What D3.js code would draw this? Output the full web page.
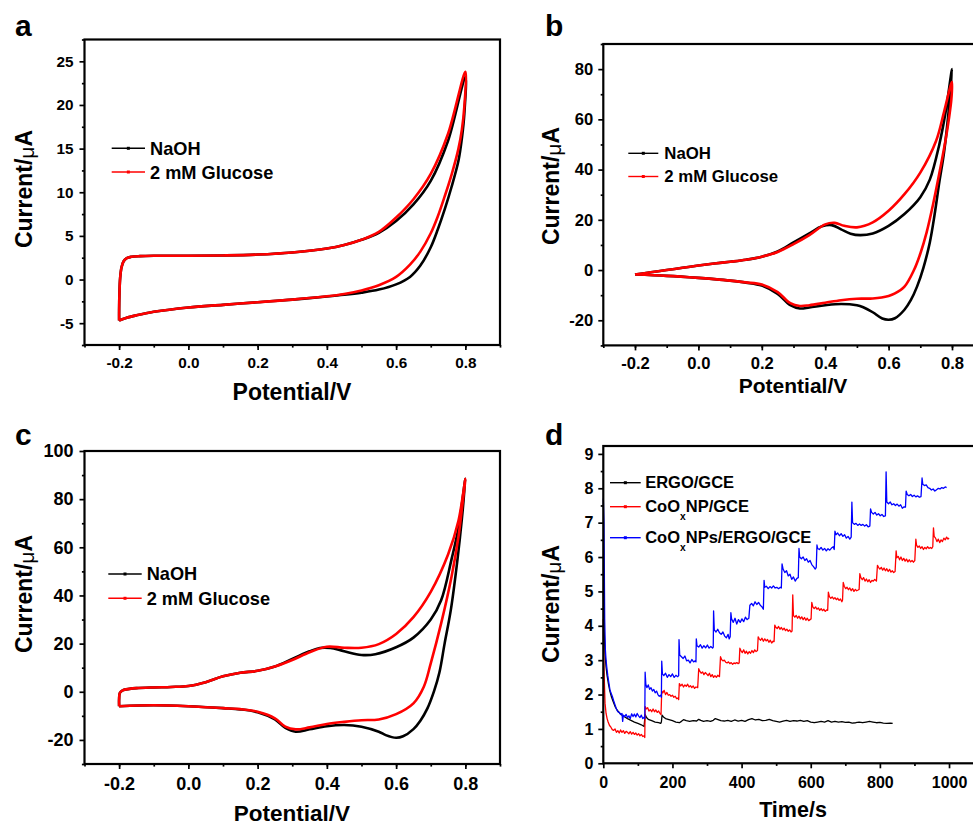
<!DOCTYPE html>
<html>
<head>
<meta charset="utf-8">
<script src="https://cdn.jsdelivr.net/npm/d3@7"></script>
<style>
  body { margin: 0; background: #fff; }
  svg { display: block; }
  text { font-family: "Liberation Sans", Arial, Helvetica, sans-serif; font-weight: bold; fill: #000; }
</style>
</head>
<body>
<svg id="fig" width="973" height="826"></svg>
<script>
// ---------- Cyclic voltammograms (potential V, current µA), forward then reverse scan ----------
// (a) bare electrode
const cvA_NaOH = [
  [-0.2,-4.7],[-0.2,-3.5],[-0.199,-1.5],[-0.197,0.2],[-0.193,1.4],[-0.187,2.1],[-0.178,2.45],[-0.165,2.6],
  [-0.14,2.68],[-0.1,2.72],[0,2.72],[0.1,2.76],[0.2,2.86],[0.3,3.1],[0.4,3.55],[0.45,3.95],[0.5,4.55],
  [0.55,5.35],[0.6,6.7],[0.65,8.6],[0.7,11.3],[0.75,15.9],[0.8,23.2],
  [0.797,19],[0.79,16.2],[0.78,13.6],[0.76,10.6],[0.74,8.0],[0.72,5.7],[0.7,3.7],[0.67,1.6],[0.64,0.3],
  [0.6,-0.55],[0.55,-1.15],[0.5,-1.5],[0.45,-1.75],[0.4,-1.95],[0.3,-2.3],[0.2,-2.6],[0.1,-2.9],
  [0,-3.2],[-0.1,-3.7],[-0.15,-4.1],[-0.18,-4.4],[-0.2,-4.7]
];
const cvA_Glucose = [
  [-0.2,-4.7],[-0.2,-3.5],[-0.199,-1.5],[-0.197,0.2],[-0.193,1.4],[-0.187,2.1],[-0.178,2.45],[-0.165,2.6],
  [-0.14,2.68],[-0.1,2.72],[0,2.72],[0.1,2.76],[0.2,2.86],[0.3,3.1],[0.4,3.55],[0.45,3.95],[0.5,4.55],
  [0.55,5.45],[0.6,7.1],[0.65,9.2],[0.7,12.1],[0.75,16.7],[0.8,23.8],
  [0.797,19.8],[0.79,17.2],[0.78,15],[0.76,12],[0.74,9.5],[0.72,7.2],[0.7,5.3],[0.67,3.2],[0.64,1.7],
  [0.6,0.3],[0.55,-0.65],[0.5,-1.25],[0.45,-1.65],[0.4,-1.92],[0.3,-2.3],[0.2,-2.6],[0.1,-2.9],
  [0,-3.2],[-0.1,-3.7],[-0.15,-4.1],[-0.18,-4.4],[-0.2,-4.7]
];
// (b)
const cvB_NaOH = [
  [-0.2,-1.8],[-0.15,-0.9],[-0.1,0.0],[-0.05,0.9],[0,1.8],[0.05,2.6],[0.1,3.3],[0.15,4.1],[0.2,5.3],
  [0.25,7.4],[0.3,11.0],[0.35,14.6],[0.39,17.4],[0.42,17.9],[0.45,16.2],[0.48,14.5],[0.51,13.9],
  [0.55,14.6],[0.6,17.6],[0.65,22.3],[0.7,29],[0.73,36],[0.76,50],[0.78,63],[0.8,80],
  [0.79,64],[0.775,47],[0.76,35],[0.745,22],[0.73,11],[0.71,1],[0.69,-6.5],[0.67,-12],[0.65,-15.8],
  [0.62,-19.2],[0.6,-19.8],[0.58,-19.3],[0.55,-16.8],[0.52,-14.8],[0.5,-14],[0.45,-13.5],[0.4,-14],
  [0.35,-14.9],[0.32,-15.3],[0.29,-14],[0.25,-9.5],[0.2,-6.2],[0.15,-5],[0.1,-4.2],[0.05,-3.6],
  [0,-3.1],[-0.1,-2.3],[-0.2,-1.8]
];
const cvB_Glucose = [
  [-0.2,-1.8],[-0.15,-0.9],[-0.1,0.0],[-0.05,0.9],[0,1.8],[0.05,2.6],[0.1,3.3],[0.15,4.1],[0.2,5.3],
  [0.25,7.2],[0.3,10.3],[0.35,13.9],[0.4,18.2],[0.43,18.8],[0.46,17.6],[0.5,17.0],[0.55,19.0],
  [0.6,23.6],[0.65,30.2],[0.7,38.8],[0.75,51.5],[0.775,63],[0.8,75],
  [0.798,68],[0.79,60],[0.78,52],[0.76,38.5],[0.74,26],[0.72,15],[0.7,6.5],[0.68,0],[0.65,-6.6],
  [0.62,-9.3],[0.6,-10.3],[0.55,-11.3],[0.5,-11.4],[0.45,-12],[0.4,-13],[0.35,-14],[0.32,-14.3],
  [0.29,-13.2],[0.25,-8.8],[0.2,-5.8],[0.15,-4.9],[0.1,-4.2],[0.05,-3.6],[0,-3.1],[-0.1,-2.3],[-0.2,-1.8]
];
// (c)
const cvC_NaOH = [
  [-0.2,-6],[-0.2,-3],[-0.198,-0.5],[-0.19,0.6],[-0.17,1.2],[-0.15,1.5],[-0.1,1.8],[-0.05,2.0],[0,2.4],
  [0.05,4.0],[0.1,6.4],[0.15,7.9],[0.2,8.7],[0.25,10.5],[0.3,13.6],[0.35,16.8],[0.38,18.2],[0.41,18.2],
  [0.45,16.8],[0.5,15.3],[0.54,15.6],[0.6,18.5],[0.65,22.5],[0.7,30],[0.73,38],[0.76,55],[0.78,68],[0.8,88.5],
  [0.79,72],[0.777,54.7],[0.758,34],[0.74,20],[0.725,8],[0.71,0.5],[0.69,-7],[0.67,-12],[0.65,-15.5],
  [0.62,-18.5],[0.6,-19.1],[0.57,-18],[0.55,-16.6],[0.5,-14.5],[0.45,-13.8],[0.4,-14.3],[0.35,-15.6],
  [0.31,-16.6],[0.28,-15],[0.25,-11.5],[0.2,-8.5],[0.15,-7.3],[0.1,-6.8],[0,-6],[-0.1,-5.6],[-0.2,-6]
];
const cvC_Glucose = [
  [-0.2,-6],[-0.2,-3],[-0.198,-0.5],[-0.19,0.6],[-0.17,1.2],[-0.15,1.5],[-0.1,1.8],[-0.05,2.0],[0,2.4],
  [0.05,4.0],[0.1,6.4],[0.15,7.9],[0.2,8.7],[0.25,10.5],[0.3,13.2],[0.35,16.4],[0.4,18.7],[0.45,18.3],
  [0.5,18.3],[0.55,19.8],[0.6,24],[0.65,31],[0.7,41.5],[0.75,57],[0.78,71],[0.8,88.5],
  [0.79,76],[0.78,64.4],[0.76,47.8],[0.73,28.4],[0.7,11.8],[0.68,2.1],[0.65,-4.8],[0.6,-9.3],
  [0.55,-11.5],[0.5,-11.8],[0.45,-12.5],[0.4,-13.4],[0.35,-14.8],[0.31,-15.6],[0.28,-14.5],
  [0.25,-11],[0.2,-8.3],[0.15,-7.2],[0.1,-6.8],[0,-6],[-0.1,-5.6],[-0.2,-6]
];

// ---------- Amperometric responses (time s, current µA) ----------
const ergoGce = [
  [0,5.0],[2,4.0],[5,3.2],[8,2.8],[11,2.55],[15,2.3],[19,2.1],[24,1.92],[29,1.78],[35,1.63],[42,1.52],
  [50,1.43],[60,1.36],[70,1.3],[80,1.25],[90,1.2],[100,1.16],[110,1.12],[118,1.07],
  [121,1.42],[125,1.33],[130,1.28],[140,1.24],[150,1.2],[160,1.18],[166,1.16],[168,1.2],
  [170,1.4],[174,1.35],[180,1.3],[190,1.27],[200,1.24],[210,1.2],[220,1.18],[226,1.22],[232,1.27],
  [240,1.24],[250,1.22],[260,1.24],[270,1.23],[276,1.28],[282,1.25],[290,1.22],[300,1.24],[310,1.22],
  [318,1.25],[324,1.3],[330,1.28],[340,1.24],[350,1.23],[360,1.25],[370,1.22],[380,1.26],[390,1.23],
  [400,1.25],[410,1.22],[420,1.27],[430,1.3],[440,1.26],[450,1.28],[460,1.24],[470,1.25],[480,1.28],
  [490,1.24],[500,1.22],[510,1.2],[520,1.23],[530,1.25],[540,1.22],[550,1.24],[560,1.23],[570,1.25],
  [580,1.22],[590,1.24],[600,1.2],[610,1.18],[620,1.2],[630,1.22],[640,1.2],[650,1.24],[660,1.2],
  [670,1.22],[680,1.2],[690,1.21],[700,1.19],[710,1.2],[720,1.17],[730,1.18],[740,1.2],[750,1.18],
  [760,1.2],[770,1.22],[780,1.2],[790,1.18],[800,1.19],[810,1.17],[820,1.16],[830,1.17],[837,1.16]
];
const coNpGce = [
  [0,4.2],[1,3.2],[3,2.4],[5,1.75],[8,1.45],[11,1.3],[14,1.2],[18,1.1],[22,1.05],[26,0.98],[30,0.96],
  [34,1.0],[38,0.9],[42,0.95],[46,0.88],[50,0.97],[54,0.9],[58,0.95],[62,0.87],[66,0.93],[70,0.9],
  [74,0.86],[78,0.92],[82,0.85],[86,0.9],[90,0.84],[94,0.88],[98,0.82],[102,0.86],[106,0.8],[110,0.84],
  [114,0.78],[118,0.8],[120,0.75],
  [121,1.65],[124,1.58],[128,1.62],[132,1.52],[136,1.56],[140,1.5],[144,1.58],[148,1.5],[152,1.55],
  [156,1.48],[160,1.52],[164,1.45],[167,1.42],
  [169,2.1],[172,2.05],[176,2.12],[180,2.0],[184,2.06],[188,1.98],[192,2.0],[196,1.95],[200,1.98],
  [204,1.92],[208,1.95],[212,1.88],[216,1.9],[218,1.85],
  [220,2.32],[224,2.25],[228,2.3],[232,2.22],[236,2.28],[240,2.24],[244,2.3],[248,2.22],[252,2.26],
  [256,2.2],[260,2.25],[264,2.18],[268,2.22],[273,2.2],
  [276,2.75],[279,2.68],[283,2.62],[287,2.66],[291,2.58],[295,2.64],[299,2.6],[303,2.55],[307,2.62],
  [311,2.52],[315,2.58],[319,2.5],[323,2.55],[327,2.5],[331,2.56],[336,2.52],
  [339,3.1],[342,3.02],[346,2.98],[350,3.0],[354,2.94],[358,2.92],[362,2.95],[366,2.9],[370,2.93],
  [374,2.88],[378,2.92],[382,2.9],[386,2.93],[390,2.9],[393,2.92],
  [395,3.35],[398,3.28],[402,3.22],[406,3.3],[410,3.2],[414,3.26],[418,3.18],[422,3.25],[426,3.2],
  [430,3.28],[434,3.22],[438,3.3],[442,3.25],[446,3.28],
  [448,3.68],[451,3.62],[455,3.58],[459,3.64],[463,3.55],[467,3.62],[471,3.56],[475,3.6],[479,3.52],
  [483,3.58],[487,3.5],[491,3.55],[494,3.54],
  [496,4.02],[499,3.96],[503,3.92],[507,3.98],[511,3.9],[515,3.95],[519,3.88],[523,3.93],[527,3.86],
  [531,3.9],[535,3.84],[539,3.88],[543,3.82],[546,3.85],
  [548,4.9],[550,4.3],[554,4.25],[558,4.3],[562,4.22],[566,4.28],[570,4.2],[574,4.26],[578,4.18],
  [582,4.24],[586,4.16],[590,4.22],[594,4.15],[598,4.18],[601,4.2],
  [603,4.68],[606,4.55],[610,4.5],[614,4.55],[618,4.48],[622,4.52],[626,4.45],[630,4.5],[634,4.44],
  [638,4.48],[642,4.42],[646,4.46],[649,4.45],
  [651,4.98],[654,4.85],[658,4.8],[662,4.84],[666,4.78],[670,4.82],[674,4.76],[678,4.8],[682,4.74],
  [686,4.78],[690,4.7],[692,4.75],
  [694,5.26],[697,5.15],[701,5.08],[705,5.12],[709,5.05],[713,5.1],[717,5.02],[721,5.08],[725,5.0],
  [729,5.06],[733,5.02],[737,5.04],[740,5.06],
  [742,5.52],[745,5.4],[749,5.34],[753,5.4],[757,5.3],[761,5.36],[765,5.28],[769,5.34],[773,5.26],
  [777,5.32],[781,5.3],[785,5.35],[790,5.3],
  [793,5.76],[796,5.7],[800,5.65],[804,5.7],[808,5.62],[812,5.68],[816,5.6],[820,5.66],[824,5.58],
  [828,5.64],[832,5.56],[836,5.6],[840,5.55],[844,5.58],
  [847,6.18],[849,5.98],[853,6.02],[857,5.92],[861,6.0],[865,5.9],[869,5.96],[873,5.88],[877,5.94],
  [881,5.86],[885,5.92],[889,5.86],[893,5.9],[897,5.85],[901,5.9],
  [904,6.52],[906,6.35],[910,6.28],[914,6.32],[918,6.25],[922,6.3],[926,6.22],[930,6.28],[934,6.24],
  [938,6.3],[942,6.25],[946,6.28],[950,6.25],[953,6.3],
  [955,6.85],[957,6.6],[961,6.55],[965,6.45],[969,6.52],[973,6.42],[977,6.5],[981,6.45],[985,6.55],
  [989,6.5],[993,6.58],[997,6.52],[1000,6.56]
];
const coNpErgoGce = [
  [0,7.7],[2,7.0],[4,4.2],[6,3.3],[8,3.0],[10,2.8],[13,2.55],[16,2.35],[19,2.15],[22,2.05],[26,1.95],
  [30,1.82],[34,1.7],[38,1.58],[42,1.5],[46,1.48],[50,1.42],[54,1.45],[56,1.22],[58,1.4],[62,1.36],
  [66,1.42],[70,1.33],[74,1.38],[78,1.3],[82,1.44],[86,1.36],[90,1.43],[94,1.35],[98,1.45],[102,1.38],
  [106,1.33],[110,1.4],[114,1.3],[118,1.34],[120,1.3],
  [121,2.65],[123,2.3],[126,2.2],[130,2.28],[134,2.15],[138,2.2],[142,2.1],[146,2.15],[150,2.05],
  [154,2.1],[158,2.0],[162,1.95],[166,1.98],[168,1.92],
  [169,2.97],[171,2.6],[175,2.55],[180,2.62],[185,2.5],[190,2.58],[195,2.52],[200,2.6],[205,2.5],
  [210,2.56],[215,2.52],[218,2.55],
  [219,3.6],[221,3.15],[226,3.1],[231,3.05],[236,3.12],[241,2.98],[246,3.0],[251,2.92],[256,3.02],
  [261,2.95],[266,2.98],[268,2.95],
  [269,3.62],[271,3.42],[276,3.38],[281,3.45],[286,3.35],[291,3.42],[296,3.36],[301,3.44],[306,3.35],
  [311,3.4],[316,3.35],[318,3.38],
  [319,4.43],[321,3.88],[326,3.82],[331,3.9],[336,3.8],[341,3.75],[346,3.82],[351,3.7],[356,3.65],
  [361,3.75],[364,3.62],[367,3.68],
  [369,4.38],[371,4.2],[376,4.1],[381,4.22],[386,4.05],[391,4.18],[396,4.1],[401,4.2],[406,4.12],
  [411,4.25],[416,4.18],[421,4.22],
  [424,4.6],[429,4.65],[434,4.58],[439,4.7],[444,4.62],[449,4.68],[454,4.6],[459,4.55],[463,4.48],
  [465,5.32],[467,5.12],[472,5.15],[477,5.08],[482,5.14],[487,5.1],[492,5.16],[497,5.1],[502,5.12],
  [507,5.08],[512,5.12],[515,5.1],
  [517,5.8],[520,5.65],[525,5.55],[530,5.6],[535,5.45],[540,5.5],[545,5.35],[550,5.42],[555,5.3],
  [560,5.38],[564,5.4],
  [566,6.25],[568,6.0],[573,5.95],[578,6.0],[583,5.9],[588,5.95],[593,5.85],[598,5.9],[603,5.78],
  [608,5.72],[613,5.65],[616,5.7],
  [618,6.35],[620,6.25],[625,6.22],[630,6.28],[635,6.2],[640,6.25],[645,6.18],[650,6.24],[655,6.2],
  [660,6.26],[665,6.3],[668,6.22],
  [670,6.75],[673,6.65],[678,6.7],[683,6.62],[688,6.68],[693,6.6],[698,6.65],[703,6.55],[708,6.6],
  [713,6.52],[717,6.58],
  [719,7.6],[721,7.0],[726,6.95],[731,6.98],[736,6.92],[741,6.96],[746,6.92],[751,6.95],[756,6.9],
  [761,6.94],[766,6.88],[771,6.9],
  [773,7.4],[776,7.3],[781,7.25],[786,7.3],[791,7.22],[796,7.26],[801,7.2],[806,7.24],[811,7.18],[816,7.2],
  [818,8.48],[820,7.6],[825,7.55],[830,7.6],[835,7.52],[840,7.55],[845,7.5],[850,7.54],[855,7.48],
  [860,7.52],[865,7.42],[870,7.46],[874,7.45],
  [876,7.92],[879,7.82],[884,7.78],[889,7.82],[894,7.76],[899,7.8],[904,7.75],[909,7.78],[914,7.74],[919,7.76],
  [922,8.3],[924,8.12],[929,8.08],[934,8.1],[939,8.02],[944,8.0],[949,7.95],[954,7.98],[959,7.92],
  [964,7.96],[969,8.0],[974,7.98],[979,8.02],[984,8.0],[989,8.04],[993,8.02]
];

// ---------- Axis ticks ----------
const cvPotentialTicks = [-0.2, 0.0, 0.2, 0.4, 0.6, 0.8];
const cvPotentialMinor = [-0.3, -0.2, -0.1, 0, 0.1, 0.2, 0.3, 0.4, 0.5, 0.6, 0.7, 0.8, 0.9];
const currentTicksA = [-5, 0, 5, 10, 15, 20, 25];
const currentMinorA = [-7.5, -2.5, 2.5, 7.5, 12.5, 17.5, 22.5, 27.5];
const currentTicksB = [-20, 0, 20, 40, 60, 80];
const currentMinorB = [-30, -10, 10, 30, 50, 70, 90];
const currentTicksC = [-20, 0, 20, 40, 60, 80, 100];
const currentMinorC = [-30, -10, 10, 30, 50, 70, 90];
const timeTicks = [0, 200, 400, 600, 800, 1000];
const timeMinor = [100, 300, 500, 700, 900];
const currentTicksD = [0, 1, 2, 3, 4, 5, 6, 7, 8, 9];
const currentMinorD = [0.5, 1.5, 2.5, 3.5, 4.5, 5.5, 6.5, 7.5, 8.5];

const cvLegend = ["NaOH", "2 mM Glucose"];
const cvColors = ["#000000", "#ff0000"];
const ampColors = ["#000000", "#ff0000", "#0000ff"];

const svg = d3.select("#fig");

function drawPanel(p) {
  const x = d3.scaleLinear().domain(p.xDomain).range([p.left, p.right]);
  const y = d3.scaleLinear().domain(p.yDomain).range([p.bottom, p.top]);
  const g = svg.append("g");

  const line = d3.line()
    .x(d => x(d[0])).y(d => y(d[1]))
    .curve(p.smooth ? d3.curveCatmullRom.alpha(0.5) : d3.curveLinear);

  p.series.forEach(s => {
    g.append("path")
      .datum(s.data)
      .attr("fill", "none")
      .attr("stroke", s.color)
      .attr("stroke-width", p.lineWidth)
      .attr("stroke-linejoin", "round")
      .attr("d", line);
  });

  // frame
  g.append("rect")
    .attr("x", p.left).attr("y", p.top)
    .attr("width", p.right - p.left).attr("height", p.bottom - p.top)
    .attr("fill", "none").attr("stroke", "#000").attr("stroke-width", 2.2);

  // ticks
  const xMinor = g.append("g").attr("transform", `translate(0,${p.bottom})`)
    .call(d3.axisBottom(x).tickValues(p.xMinor).tickSize(2.6).tickFormat(""));
  const xMajor = g.append("g").attr("transform", `translate(0,${p.bottom})`)
    .call(d3.axisBottom(x).tickValues(p.xTicks).tickSize(5)
      .tickPadding(p.xLabelOffset - 5 - 0.71 * p.tickFont).tickFormat(p.xFormat));
  const yMinor = g.append("g").attr("transform", `translate(${p.left},0)`)
    .call(d3.axisLeft(y).tickValues(p.yMinor).tickSize(2.6).tickFormat(""));
  const yMajor = g.append("g").attr("transform", `translate(${p.left},0)`)
    .call(d3.axisLeft(y).tickValues(p.yTicks).tickSize(5)
      .tickPadding(p.yLabelGap).tickFormat(p.yFormat));
  [xMinor, xMajor, yMinor, yMajor].forEach(a => {
    a.select(".domain").remove();
    a.selectAll("line").attr("stroke-width", 1.7);
    a.attr("font-family", null).attr("font-size", null);
    a.selectAll("text").style("font-size", p.tickFont + "px");
  });

  // axis titles
  g.append("text")
    .attr("x", p.xTitle[0]).attr("y", p.xTitle[1])
    .attr("text-anchor", "middle").style("font-size", p.xTitleFont + "px")
    .text(p.xLabel);
  const yt = g.append("text")
    .attr("transform", `translate(${p.yTitle[0]},${p.yTitle[1]}) rotate(-90)`)
    .attr("text-anchor", "middle").style("font-size", "23px");
  yt.append("tspan").text("Current/");
  yt.append("tspan").style("font-weight", "normal").style("font-size", "21px").attr("dy", 2).text("\u03bc");
  yt.append("tspan").attr("dy", -2).text("A");

  // panel letter
  g.append("text").attr("x", p.letterPos[0]).attr("y", p.letterPos[1])
    .style("font-size", "30px").text(p.letter);

  // legend
  p.legend.forEach((item, i) => {
    const ly = p.legendY[i];
    g.append("line")
      .attr("x1", p.legendX[0]).attr("x2", p.legendX[1])
      .attr("y1", ly).attr("y2", ly)
      .attr("stroke", item.color).attr("stroke-width", 1.4);
    const mx = (p.legendX[0] + p.legendX[1]) / 2;
    g.append("rect").attr("x", mx - 1.5).attr("y", ly - 1.5).attr("width", 3).attr("height", 3)
      .attr("fill", item.color);
    const t = g.append("text")
      .attr("x", p.legendX[1] + p.legendGap).attr("y", ly + p.legendBase)
      .style("font-size", p.legendFont + "px");
    item.parts.forEach(part => {
      const ts = t.append("tspan").text(part.text);
      if (part.sub) ts.attr("dy", 8).style("font-size", (p.legendFont * 0.62) + "px");
      if (part.after) ts.attr("dy", -8);
    });
  });
}

const fmt1 = d => d.toFixed(1);
const fmtInt = d => String(d);

drawPanel({
  letter: "a", letterPos: [15, 36],
  left: 84.5, right: 500, top: 39.5, bottom: 345,
  xDomain: [-0.3, 0.9], yDomain: [-7.5, 27.5],
  xTicks: cvPotentialTicks, xMinor: cvPotentialMinor, yTicks: currentTicksA, yMinor: currentMinorA,
  xFormat: fmt1, yFormat: fmtInt, tickFont: 15.3, xLabelOffset: 22.5, yLabelGap: 6,
  xLabel: "Potential/V", xTitle: [292, 400], xTitleFont: 23, yTitle: [31.5, 189],
  smooth: true, lineWidth: 2.6,
  series: [{ data: cvA_NaOH, color: cvColors[0] }, { data: cvA_Glucose, color: cvColors[1] }],
  legend: [{ color: cvColors[0], parts: [{ text: cvLegend[0] }] },
           { color: cvColors[1], parts: [{ text: cvLegend[1] }] }],
  legendX: [111.7, 145], legendY: [148.3, 172], legendGap: 5, legendBase: 6.7, legendFont: 18.2
});

drawPanel({
  letter: "b", letterPos: [545, 36],
  left: 603.3, right: 983.7, top: 44, bottom: 345.4,
  xDomain: [-0.3, 0.9], yDomain: [-30, 90],
  xTicks: cvPotentialTicks, xMinor: cvPotentialMinor, yTicks: currentTicksB, yMinor: currentMinorB,
  xFormat: fmt1, yFormat: fmtInt, tickFont: 16.6, xLabelOffset: 24, yLabelGap: 5,
  xLabel: "Potential/V", xTitle: [793, 393], xTitleFont: 21, yTitle: [559, 186],
  smooth: true, lineWidth: 2.6,
  series: [{ data: cvB_NaOH, color: cvColors[0] }, { data: cvB_Glucose, color: cvColors[1] }],
  legend: [{ color: cvColors[0], parts: [{ text: cvLegend[0] }] },
           { color: cvColors[1], parts: [{ text: cvLegend[1] }] }],
  legendX: [628.3, 658.3], legendY: [153.3, 176.5], legendGap: 6, legendBase: 5.5, legendFont: 16.8
});

drawPanel({
  letter: "c", letterPos: [15, 445],
  left: 84.5, right: 500, top: 451, bottom: 764,
  xDomain: [-0.3, 0.9], yDomain: [-30, 100],
  xTicks: cvPotentialTicks, xMinor: cvPotentialMinor, yTicks: currentTicksC, yMinor: currentMinorC,
  xFormat: fmt1, yFormat: fmtInt, tickFont: 18, xLabelOffset: 26, yLabelGap: 6,
  xLabel: "Potential/V", xTitle: [292, 821], xTitleFont: 22.5, yTitle: [31.5, 594],
  smooth: true, lineWidth: 2.6,
  series: [{ data: cvC_NaOH, color: cvColors[0] }, { data: cvC_Glucose, color: cvColors[1] }],
  legend: [{ color: cvColors[0], parts: [{ text: cvLegend[0] }] },
           { color: cvColors[1], parts: [{ text: cvLegend[1] }] }],
  legendX: [108.3, 141.7], legendY: [574, 598.3], legendGap: 5, legendBase: 6.2, legendFont: 18.2
});

drawPanel({
  letter: "d", letterPos: [545, 445],
  left: 603.3, right: 983.6, top: 446, bottom: 763.3,
  xDomain: [0, 1100], yDomain: [0, 9.23],
  xTicks: timeTicks, xMinor: timeMinor, yTicks: currentTicksD, yMinor: currentMinorD,
  xFormat: fmtInt, yFormat: fmtInt, tickFont: 16, xLabelOffset: 25, yLabelGap: 5,
  xLabel: "Time/s", xTitle: [793, 817], xTitleFont: 21.5, yTitle: [559, 604],
  smooth: false, lineWidth: 1.3,
  series: [{ data: ergoGce, color: ampColors[0] }, { data: coNpGce, color: ampColors[1] },
           { data: coNpErgoGce, color: ampColors[2] }],
  legend: [
    { color: ampColors[0], parts: [{ text: "ERGO/GCE" }] },
    { color: ampColors[1], parts: [{ text: "CoO" }, { text: "x", sub: true }, { text: "NP/GCE", after: true }] },
    { color: ampColors[2], parts: [{ text: "CoO" }, { text: "x", sub: true }, { text: "NPs/ERGO/GCE", after: true }] }
  ],
  legendX: [610, 640.7], legendY: [482.7, 506.7, 537.7], legendGap: 4.5, legendBase: 5.5, legendFont: 16.5
});
</script>
</body>
</html>
